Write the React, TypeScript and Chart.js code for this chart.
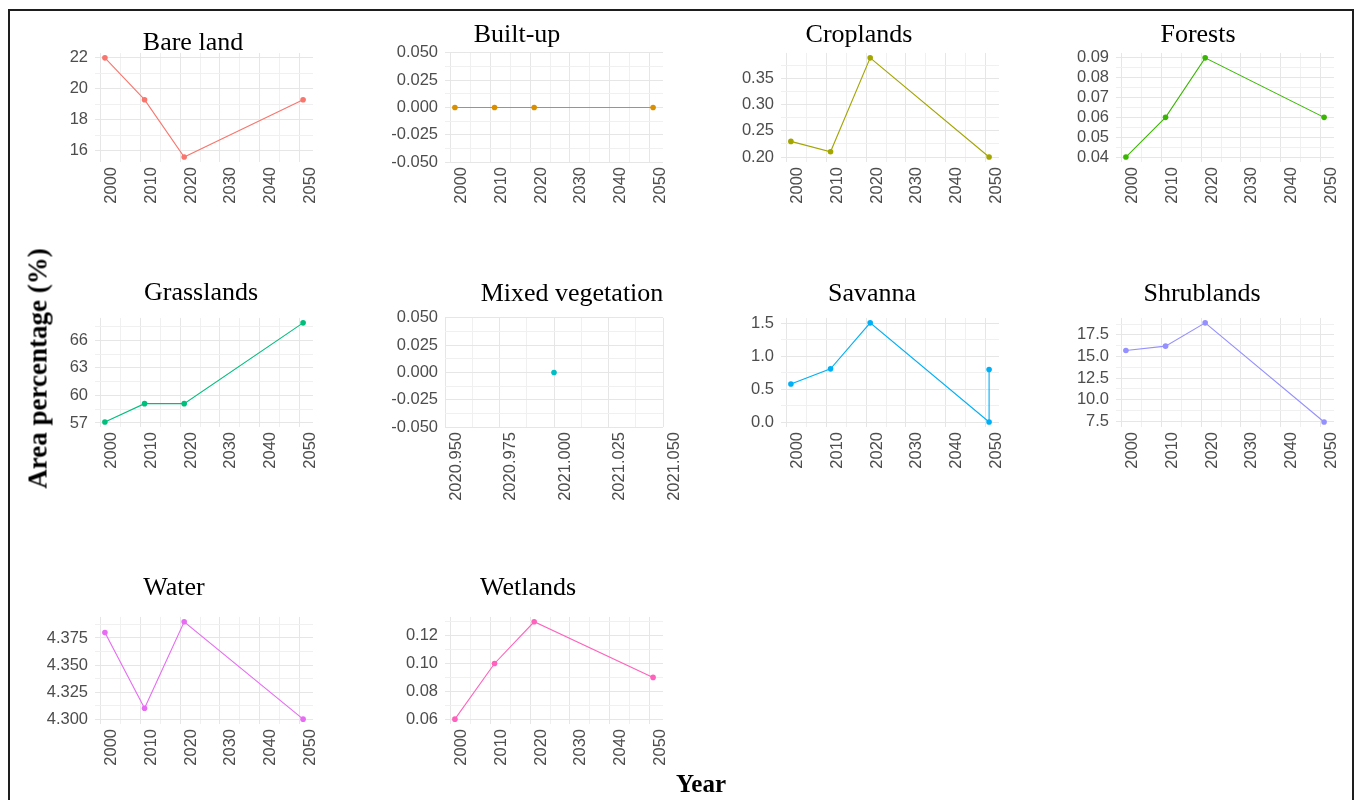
import React, { useEffect, useRef } from "react";
import { Chart, registerables } from "chart.js";

Chart.register(...registerables);

// ---- data -------------------------------------------------------------

// Observation years; Savanna carries two values for 2051.
const years = [2001, 2011, 2021, 2051];
const savannaYears = [2001, 2011, 2021, 2051, 2051];
const mixedVegetationYears = [2021];

// Area percentage (%) per land-cover class
const bareLand = [22.0, 19.3, 15.6, 19.3];
const builtUp = [0, 0, 0, 0];
const croplands = [0.23, 0.21, 0.39, 0.2];
const forests = [0.04, 0.06, 0.09, 0.06];
const grasslands = [57.1, 59.1, 59.1, 67.9];
const mixedVegetation = [0];
const savanna = [0.58, 0.81, 1.51, 0.0, 0.8];
const shrublands = [15.7, 16.2, 18.9, 7.4];
const water = [4.38, 4.31, 4.39, 4.3];
const wetlands = [0.06, 0.1, 0.13, 0.09];

// Tick labels (x)
const yearTickLabels = ["2000", "2010", "2020", "2030", "2040", "2050"];
const mixedYearTickLabels = ["2020.950", "2020.975", "2021.000", "2021.025", "2021.050"];

// Tick labels (y)
const bareLandTicks = ["16", "18", "20", "22"];
const builtUpTicks = ["-0.050", "-0.025", "0.000", "0.025", "0.050"];
const croplandsTicks = ["0.20", "0.25", "0.30", "0.35"];
const forestsTicks = ["0.04", "0.05", "0.06", "0.07", "0.08", "0.09"];
const grasslandsTicks = ["57", "60", "63", "66"];
const mixedVegetationTicks = ["-0.050", "-0.025", "0.000", "0.025", "0.050"];
const savannaTicks = ["0.0", "0.5", "1.0", "1.5"];
const shrublandsTicks = ["7.5", "10.0", "12.5", "15.0", "17.5"];
const waterTicks = ["4.300", "4.325", "4.350", "4.375"];
const wetlandsTicks = ["0.06", "0.08", "0.10", "0.12"];

const classNames = [
  "Bare land",
  "Built-up",
  "Croplands",
  "Forests",
  "Grasslands",
  "Mixed vegetation",
  "Savanna",
  "Shrublands",
  "Water",
  "Wetlands",
];

// ---- styling / layout -------------------------------------------------

const classColors = [
  "#F8766D",
  "#D89000",
  "#A3A500",
  "#39B600",
  "#00BF7D",
  "#00BFC4",
  "#00B0F6",
  "#9590FF",
  "#E76BF3",
  "#FF62BC",
];

const SANS = '"Liberation Sans", Arial, sans-serif';
const SERIF = '"Liberation Serif", "Times New Roman", serif';
const TICK_COLOR = "#4d4d4d";
const GRID_MAJOR = "#e6e6e6";
const GRID_MINOR = "#f0f0f0";

// plot-area rectangles (page pixels)
const COL_X = [95, 445, 781, 1116];
const ROW_Y = [50, 315, 614];
const ROW_H = [112, 112, 110];
const PANEL_W = 218;

// title anchor: centre x, baseline y
const titleAnchors: [number, number][] = [
  [193, 51],
  [517, 43],
  [859, 43],
  [1198, 43],
  [201, 300.5],
  [572, 301.5],
  [872, 301.5],
  [1202, 301.5],
  [174, 596],
  [528, 596],
];

const Y_AXIS_W = 70;
const X_AXIS_H = 90;
const PAD_T = 14;
const PAD_R = 40;

type PanelSpec = {
  title: string;
  xs: number[];
  ys: number[];
  xLabels: string[];
  yLabels: string[];
  color: string;
};

const panels: PanelSpec[] = [
  { title: classNames[0], xs: years, ys: bareLand, xLabels: yearTickLabels, yLabels: bareLandTicks, color: classColors[0] },
  { title: classNames[1], xs: years, ys: builtUp, xLabels: yearTickLabels, yLabels: builtUpTicks, color: classColors[1] },
  { title: classNames[2], xs: years, ys: croplands, xLabels: yearTickLabels, yLabels: croplandsTicks, color: classColors[2] },
  { title: classNames[3], xs: years, ys: forests, xLabels: yearTickLabels, yLabels: forestsTicks, color: classColors[3] },
  { title: classNames[4], xs: years, ys: grasslands, xLabels: yearTickLabels, yLabels: grasslandsTicks, color: classColors[4] },
  { title: classNames[5], xs: mixedVegetationYears, ys: mixedVegetation, xLabels: mixedYearTickLabels, yLabels: mixedVegetationTicks, color: classColors[5] },
  { title: classNames[6], xs: savannaYears, ys: savanna, xLabels: yearTickLabels, yLabels: savannaTicks, color: classColors[6] },
  { title: classNames[7], xs: years, ys: shrublands, xLabels: yearTickLabels, yLabels: shrublandsTicks, color: classColors[7] },
  { title: classNames[8], xs: years, ys: water, xLabels: yearTickLabels, yLabels: waterTicks, color: classColors[8] },
  { title: classNames[9], xs: years, ys: wetlands, xLabels: yearTickLabels, yLabels: wetlandsTicks, color: classColors[9] },
];

// ---- helpers ----------------------------------------------------------

// 5% padding on both sides; a flat series gets +/-0.05
function expandedRange(values: number[]): [number, number] {
  const lo = Math.min(...values);
  const hi = Math.max(...values);
  if (hi - lo < 1e-12) return [lo - 0.05, hi + 0.05];
  const pad = (hi - lo) * 0.05;
  return [lo - pad, hi + pad];
}

// major breaks plus half-step minor breaks that fall inside the range
function gridValues(major: number[], lo: number, hi: number): number[] {
  const step = major[1] - major[0];
  const eps = step * 1e-6;
  const out: number[] = [...major];
  for (let i = -1; i < major.length; i++) out.push(major[0] + (i + 0.5) * step);
  return out.filter((v) => v >= lo - eps && v <= hi + eps).sort((a, b) => a - b);
}

function axisOptions(labels: string[], lo: number, hi: number, isX: boolean) {
  const major = labels.map(Number);
  const step = major[1] - major[0];
  const eps = Math.abs(step) * 1e-6;
  const all = gridValues(major, lo, hi);
  const majorIndex = (v: number) => major.findIndex((m) => Math.abs(m - v) < eps);

  return {
    type: "linear" as const,
    min: lo,
    max: hi,
    afterBuildTicks: (scale: any) => {
      scale.ticks = all.map((v) => ({ value: v }));
    },
    afterFit: (scale: any) => {
      if (isX) scale.height = X_AXIS_H;
      else scale.width = Y_AXIS_W;
    },
    border: { display: false },
    grid: {
      drawTicks: false,
      lineWidth: 1,
      color: (ctx: any) => (ctx.tick && majorIndex(ctx.tick.value) >= 0 ? GRID_MAJOR : GRID_MINOR),
    },
    ticks: {
      autoSkip: false,
      color: TICK_COLOR,
      font: { family: SANS, size: 16.5 },
      padding: isX ? 5 : 7,
      ...(isX ? { minRotation: 90, maxRotation: 90, labelOffset: 11 } : {}),
      callback: (value: number) => {
        const i = majorIndex(value);
        return i >= 0 ? labels[i] : "";
      },
    },
  };
}

function Panel({ spec, index }: { spec: PanelSpec; index: number }) {
  const ref = useRef<HTMLCanvasElement>(null);
  const col = index % 4;
  const row = Math.floor(index / 4);
  const px = COL_X[col];
  const py = ROW_Y[row];
  const ph = ROW_H[row];
  const width = Y_AXIS_W + PANEL_W + PAD_R;
  const height = PAD_T + ph + X_AXIS_H;

  useEffect(() => {
    const [xlo, xhi] = expandedRange(spec.xs);
    const [ylo, yhi] = expandedRange(spec.ys);
    const chart = new Chart(ref.current as HTMLCanvasElement, {
      type: "scatter",
      data: {
        datasets: [
          {
            data: spec.xs.map((x, i) => ({ x, y: spec.ys[i] })),
            showLine: true,
            borderColor: spec.color,
            backgroundColor: spec.color,
            pointBackgroundColor: spec.color,
            pointBorderWidth: 0,
            pointRadius: 2.8,
            pointHoverRadius: 2.8,
            borderWidth: 1.1,
            tension: 0,
          },
        ],
      },
      options: {
        responsive: false,
        animation: false,
        devicePixelRatio: 1,
        events: [],
        layout: { padding: { top: PAD_T, right: PAD_R, bottom: 0, left: 0 } },
        plugins: {
          legend: { display: false },
          tooltip: { enabled: false },
          title: { display: false },
        },
        scales: {
          x: axisOptions(spec.xLabels, xlo, xhi, true) as any,
          y: axisOptions(spec.yLabels, ylo, yhi, false) as any,
        },
      },
    });
    return () => chart.destroy();
  }, [spec]);

  return (
    <canvas
      ref={ref}
      width={width}
      height={height}
      style={{
        position: "absolute",
        left: px - Y_AXIS_W,
        top: py - PAD_T,
        width,
        height,
      }}
    />
  );
}

export default function App() {
  return (
    <div
      style={{
        position: "absolute",
        left: 0,
        top: 0,
        width: 1357,
        height: 800,
        overflow: "hidden",
        background: "#ffffff",
      }}
    >
      <div
        style={{
          position: "absolute",
          left: 8,
          top: 9,
          width: 1346,
          height: 820,
          boxSizing: "border-box",
          border: "2px solid #1e1e1e",
        }}
      />
      {panels.map((p, i) => (
        <Panel key={p.title} spec={p} index={i} />
      ))}
      {panels.map((p, i) => (
        <div
          key={"t" + p.title}
          style={{
            position: "absolute",
            left: titleAnchors[i][0],
            top: titleAnchors[i][1] - 21.8,
            transform: "translateX(-50%)",
            fontFamily: SERIF,
            fontSize: 26,
            lineHeight: "26px",
            whiteSpace: "nowrap",
            color: "#000",
          }}
        >
          {p.title}
        </div>
      ))}
      <div
        style={{
          position: "absolute",
          left: 38 - 170,
          top: 368.5 - 13.5,
          width: 340,
          textAlign: "center",
          transform: "rotate(-90deg)",
          fontFamily: SERIF,
          fontWeight: "bold",
          fontSize: 27,
          lineHeight: "27px",
          whiteSpace: "nowrap",
          color: "#000",
        }}
      >
        Area percentage (%)
      </div>
      <div
        style={{
          position: "absolute",
          left: 701 - 60,
          top: 792 - 21,
          width: 120,
          textAlign: "center",
          fontFamily: SERIF,
          fontWeight: "bold",
          fontSize: 25,
          lineHeight: "25px",
          whiteSpace: "nowrap",
          color: "#000",
        }}
      >
        Year
      </div>
    </div>
  );
}
